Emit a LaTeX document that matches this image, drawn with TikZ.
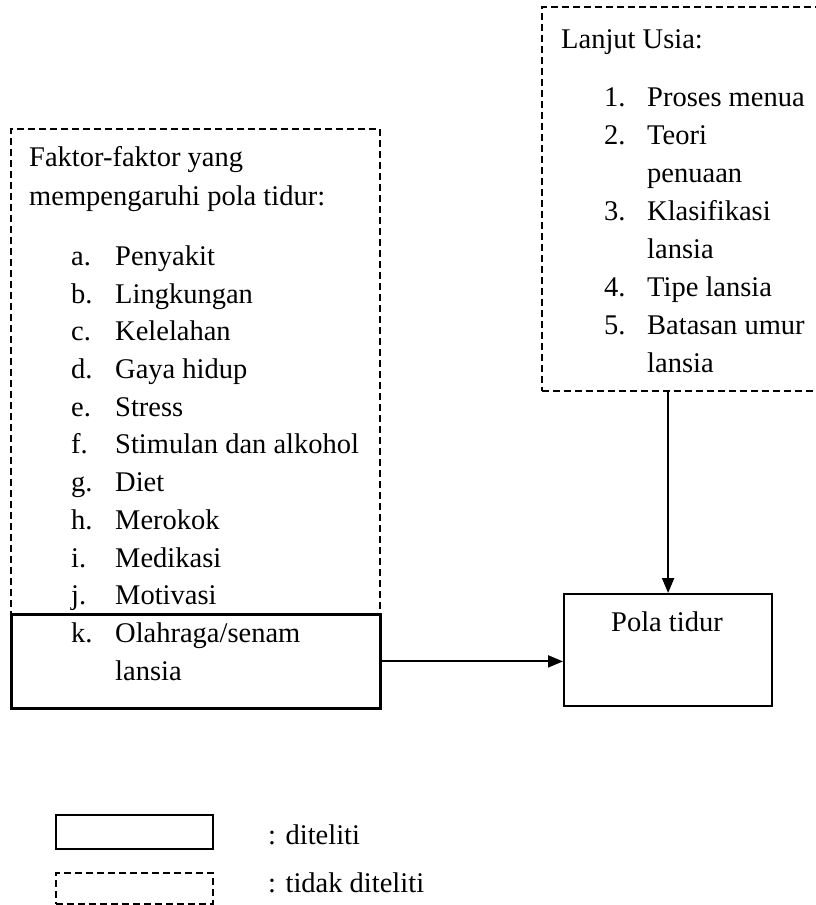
\documentclass[tikz,border=0pt]{standalone}
\usepackage{fontspec}
\setmainfont{Liberation Serif}
\usetikzlibrary{arrows.meta}
\tikzset{
  txt/.style={inner sep=0pt, font=\fontsize{28.5}{34}\selectfont, anchor=base west},
  dbox/.style={draw, line width=1.7pt, dash pattern=on 7pt off 4pt, inner sep=0pt, anchor=north west},
  sbox/.style={draw, line width=2.2pt, inner sep=0pt, anchor=north west},
  conn/.style={line width=2pt, -{Triangle[length=15pt,width=12pt]}}
}
\begin{document}
\begin{tikzpicture}[x=1pt,y=-1pt]
\clip (0,0) rectangle (816,905);
\fill[white] (0,0) rectangle (816,905);
% left box
\node[dbox, minimum width=369pt, minimum height=485pt] (faktor) at (10,128) {};
\node[sbox, line width=2.8pt, minimum width=369pt, minimum height=94pt] (olah) at (10,613) {};
\node[txt] (f1) at (29,166) {Faktor-faktor yang};
\node[txt] (f2) at (29,205) {mempengaruhi pola tidur:};
\node[txt] (la) at (71,265) {a.};   \node[txt] (ta) at (115,265) {Penyakit};
\node[txt] (lb) at (71,303) {b.};   \node[txt] (tb) at (115,303) {Lingkungan};
\node[txt] (lc) at (71,340) {c.};   \node[txt] (tc) at (115,340) {Kelelahan};
\node[txt] (ld) at (71,378) {d.};   \node[txt] (td) at (115,378) {Gaya hidup};
\node[txt] (le) at (71,416) {e.};   \node[txt] (te) at (115,416) {Stress};
\node[txt] (lf) at (71,453) {f.};   \node[txt] (tf) at (115,453) {Stimulan dan alkohol};
\node[txt] (lg) at (71,491) {g.};   \node[txt] (tg) at (115,491) {Diet};
\node[txt] (lh) at (71,529) {h.};   \node[txt] (th) at (115,529) {Merokok};
\node[txt] (li) at (71,567) {i.};   \node[txt] (ti) at (115,567) {Medikasi};
\node[txt] (lj) at (71,604) {j.};   \node[txt] (tj) at (115,604) {Motivasi};
\node[txt] (lk) at (71,642) {k.};   \node[txt] (tk) at (115,642) {Olahraga/senam};
\node[txt] (tk2) at (115,680) {lansia};
% right box
\node[dbox, minimum width=300pt, minimum height=384pt] (lanjut) at (541,6) {};
\node[txt] (u0) at (561,48) {Lanjut Usia:};
\node[txt] (n1) at (604,106) {1.};  \node[txt] (u1) at (647,106) {Proses menua};
\node[txt] (n2) at (604,144) {2.};  \node[txt] (u2) at (647,144) {Teori};
\node[txt] (u2b) at (647,182) {penuaan};
\node[txt] (n3) at (604,220) {3.};  \node[txt] (u3) at (647,220) {Klasifikasi};
\node[txt] (u3b) at (647,258) {lansia};
\node[txt] (n4) at (604,296) {4.};  \node[txt] (u4) at (647,296) {Tipe lansia};
\node[txt] (n5) at (604,334) {5.};  \node[txt] (u5) at (647,334) {Batasan umur};
\node[txt] (u5b) at (647,372) {lansia};
% pola tidur
\node[sbox, minimum width=208pt, minimum height=112pt] (pola) at (563,593) {};
\node[txt, anchor=base] (polat) at (667,631) {Pola tidur};
% connectors
\draw[conn] (pola.north |- lanjut.south) -- (pola.north);
\draw[conn] (olah.east) -- (olah.east -| pola.west);
% legend
\node[sbox, minimum width=157pt, minimum height=34pt] (leg1) at (55,814) {};
\node[dbox, minimum width=157pt, minimum height=31pt] (leg2) at (55,872) {};
\node[txt] (lt1) at (268,844) {: diteliti};
\node[txt] (lt2) at (268,892) {: tidak diteliti};
\end{tikzpicture}
\end{document}
